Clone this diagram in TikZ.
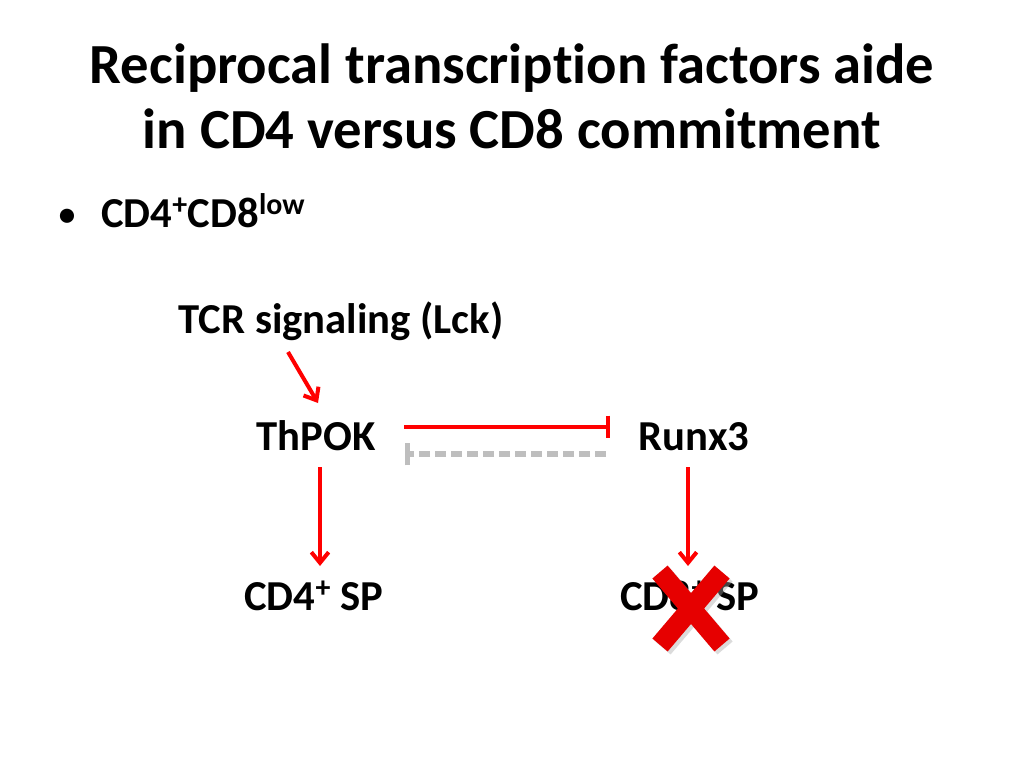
\documentclass[tikz,border=0pt]{standalone}
\usepackage{fontspec}
\setmainfont{Carlito}[Ligatures=NoCommon]
\usetikzlibrary{arrows.meta}
\definecolor{xred}{RGB}{230,0,0}
\definecolor{xgray}{RGB}{190,190,190}
\tikzset{
  lbl/.style={font=\fontsize{32}{38}\selectfont\bfseries, inner sep=0pt, anchor=base},
  ttl/.style={font=\fontsize{42.5}{51}\selectfont\bfseries, inner sep=0pt, anchor=base},
  act/.style={draw=red, line width=3pt, -{Straight Barb[length=8pt,width=13pt]}},
  inh/.style={draw=red, line width=3pt, -{Bar[width=17pt,line width=3pt]}},
}
\begin{document}
\begin{tikzpicture}[x=0.75pt,y=-0.75pt]
\useasboundingbox (0,0) rectangle (1024,768);
\node[ttl] (title1) at (512,83) {Reciprocal transcription factors aide};
\node[ttl] (title2) at (512,148) {in CD4 versus CD8 commitment};
\node[font=\fontsize{30}{36}\selectfont, anchor=base, inner sep=0pt] (bul) at (67,227) {•};
\node[lbl, anchor=base west] (cd) at (101,227) {CD4\textsuperscript{+}CD8\textsuperscript{low}};
\node[lbl] (tcr) at (341,333) {TCR signaling (Lck)};
\node[lbl] (thpok) at (316,450) {ThPOK};
\node[lbl] (runx) at (694,450) {Runx3};
\node[lbl] (cd4) at (314,610) {CD4\textsuperscript{+} SP};
\node[lbl] (cd8) at (690,610) {CD8\textsuperscript{+} SP};
\coordinate (t1) at (288,352);
\coordinate (t2) at (318,403);
\draw[act] (t1) -- (t2);
\coordinate (a1) at (320,467);
\coordinate (a2) at (320,566);
\draw[act] (a1) -- (a2);
\coordinate (b1) at (688,467);
\coordinate (b2) at (688,566);
\draw[act] (b1) -- (b2);
\coordinate (i1) at (404,427);
\coordinate (i2) at (610,427);
\draw[inh] (i1) -- (i2);
\coordinate (g1) at (606,454);
\coordinate (g2) at (405,454);
\draw[xgray, line width=4pt, dash pattern=on 8pt off 4pt, -{Bar[width=17pt,line width=4pt]}] (g1) -- (g2);
\coordinate (x1) at (660,572);
\coordinate (x2) at (722,645);
\coordinate (x3) at (722,572);
\coordinate (x4) at (660,645);
\begin{scope}[line width=15pt]
\draw[black!35, opacity=0.4] ([shift={(3,3)}]x1) -- ([shift={(3,3)}]x2) ([shift={(3,3)}]x3) -- ([shift={(3,3)}]x4);
\draw[xred] (x1) -- (x2) (x3) -- (x4);
\end{scope}
\end{tikzpicture}
\end{document}
